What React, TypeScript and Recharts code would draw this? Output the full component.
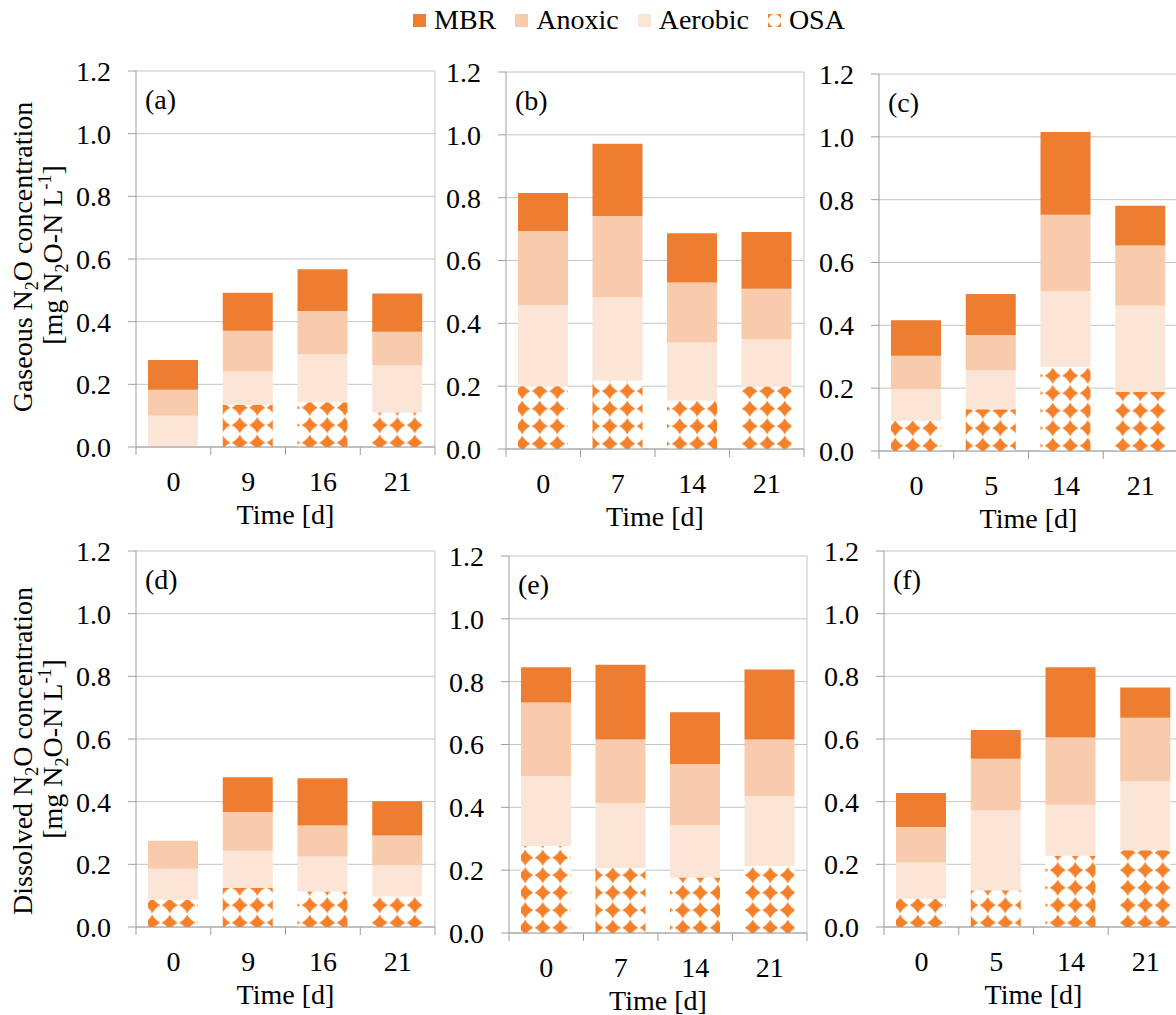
import React from 'react';
import { Bar, BarChart, CartesianGrid, XAxis, YAxis } from 'recharts';

const FONT = '"Liberation Serif", "Times New Roman", serif';
const AXIS = '#9E9E9E';
const GRID = '#C4C4C4';
const MBR_COLOR = '#ED7D31';
const ANOXIC_COLOR = '#F8CBAD';
const AEROBIC_COLOR = '#FBE5D6';
const OSA_DOT = '#F4812A';

const yTicks = [0, 0.2, 0.4, 0.6, 0.8, 1.0, 1.2];

// sampling days per reactor
const daysA = ['0', '9', '16', '21'];
const daysB = ['0', '7', '14', '21'];
const daysC = ['0', '5', '14', '21'];

// gaseous N2O (top row)
const osaA = [0, 0.135, 0.143, 0.11];
const aerobicA = [0.1, 0.106, 0.152, 0.15];
const anoxicA = [0.083, 0.13, 0.139, 0.108];
const mbrA = [0.095, 0.121, 0.133, 0.122];

const osaB = [0.2, 0.218, 0.154, 0.199];
const aerobicB = [0.258, 0.264, 0.185, 0.15];
const anoxicB = [0.236, 0.26, 0.191, 0.161];
const mbrB = [0.121, 0.23, 0.157, 0.181];

const osaC = [0.096, 0.133, 0.268, 0.188];
const aerobicC = [0.101, 0.124, 0.241, 0.274];
const anoxicC = [0.106, 0.112, 0.243, 0.192];
const mbrC = [0.113, 0.131, 0.263, 0.127];

// dissolved N2O (bottom row)
const osaD = [0.087, 0.125, 0.113, 0.097];
const aerobicD = [0.099, 0.118, 0.112, 0.099];
const anoxicD = [0.089, 0.124, 0.099, 0.096];
const mbrD = [0, 0.111, 0.151, 0.109];

const osaE = [0.277, 0.207, 0.177, 0.213];
const aerobicE = [0.223, 0.206, 0.166, 0.222];
const anoxicE = [0.234, 0.203, 0.195, 0.181];
const mbrE = [0.112, 0.238, 0.165, 0.223];

const osaF = [0.09, 0.117, 0.227, 0.245];
const aerobicF = [0.116, 0.255, 0.163, 0.22];
const anoxicF = [0.113, 0.165, 0.215, 0.203];
const mbrF = [0.109, 0.092, 0.224, 0.096];

const rows = (days, osa, aerobic, anoxic, mbr) =>
  days.map((day, i) => ({ day, osa: osa[i], aerobic: aerobic[i], anoxic: anoxic[i], mbr: mbr[i] }));

const panels = [
  { label: '(a)', data: rows(daysA, osaA, aerobicA, anoxicA, mbrA), x: 136, y: 71, w: 299, h: 376 },
  { label: '(b)', data: rows(daysB, osaB, aerobicB, anoxicB, mbrB), x: 506, y: 72, w: 298, h: 377 },
  { label: '(c)', data: rows(daysC, osaC, aerobicC, anoxicC, mbrC), x: 879, y: 74, w: 299, h: 377 },
  { label: '(d)', data: rows(daysA, osaD, aerobicD, anoxicD, mbrD), x: 136, y: 551, w: 299, h: 376 },
  { label: '(e)', data: rows(daysB, osaE, aerobicE, anoxicE, mbrE), x: 509, y: 556, w: 298, h: 377 },
  { label: '(f)', data: rows(daysC, osaF, aerobicF, anoxicF, mbrF), x: 884, y: 551, w: 299, h: 376 }
];

const series = [
  { key: 'mbr', name: 'MBR', fill: MBR_COLOR },
  { key: 'anoxic', name: 'Anoxic', fill: ANOXIC_COLOR },
  { key: 'aerobic', name: 'Aerobic', fill: AEROBIC_COLOR },
  { key: 'osa', name: 'OSA', fill: 'url(#osaLegend)' }
];

const Y_W = 80;
const X_H = 90;
const TOP = 22;
const RIGHT = 10;

// category label plus tick marks on the category boundaries
function TimeTick(props) {
  const { x, y, payload, index, band, count } = props;
  const half = payload && payload.offset ? payload.offset : band / 2;
  const axisY = y - 24;
  return (
    <g>
      <line x1={x - half} y1={axisY} x2={x - half} y2={axisY + 8} stroke={AXIS} />
      {index === count - 1 && <line x1={x + half} y1={axisY} x2={x + half} y2={axisY + 8} stroke={AXIS} />}
      <text x={x} y={y} dy="0.71em" textAnchor="middle" fontFamily={FONT} fontSize={28} fill="#000">
        {payload.value}
      </text>
    </g>
  );
}

function Panel({ p }) {
  const width = Y_W + p.w + RIGHT;
  const height = TOP + p.h + X_H;
  return (
    <div style={{ position: 'absolute', left: p.x - Y_W, top: p.y - TOP, width, height }}>
      <BarChart width={width} height={height} data={p.data} margin={{ top: TOP, right: RIGHT, left: 0, bottom: 0 }}>
        <CartesianGrid horizontal={true} vertical={false} stroke={GRID} />
        <CartesianGrid horizontal={false} vertical={true} verticalPoints={[Y_W + p.w]} stroke={GRID} />
        <XAxis
          dataKey="day"
          interval={0}
          height={X_H}
          axisLine={{ stroke: AXIS }}
          tickLine={false}
          tickSize={8}
          tickMargin={16}
          tick={<TimeTick band={p.w / p.data.length} count={p.data.length} />}
          label={{ value: 'Time [d]', position: 'insideBottom', offset: 13, fontFamily: FONT, fontSize: 28, fill: '#000' }}
        />
        <YAxis
          width={Y_W}
          domain={[0, 1.2]}
          ticks={yTicks}
          interval={0}
          tickFormatter={(v) => v.toFixed(1)}
          axisLine={{ stroke: AXIS }}
          tickLine={{ stroke: AXIS }}
          tickSize={8}
          tickMargin={17}
          tick={{ fontFamily: FONT, fontSize: 28, fill: '#000' }}
        />
        <Bar dataKey="osa" stackId="s" fill="url(#osa)" barSize={50} isAnimationActive={false} />
        <Bar dataKey="aerobic" stackId="s" fill={AEROBIC_COLOR} barSize={50} isAnimationActive={false} />
        <Bar dataKey="anoxic" stackId="s" fill={ANOXIC_COLOR} barSize={50} isAnimationActive={false} />
        <Bar dataKey="mbr" stackId="s" fill={MBR_COLOR} barSize={50} isAnimationActive={false} />
      </BarChart>
    </div>
  );
}

const diamond = 'M8.75,0.6 Q11.4,6.1 16.9,8.75 Q11.4,11.4 8.75,16.9 Q6.1,11.4 0.6,8.75 Q6.1,6.1 8.75,0.6 Z';
const smallDiamond = 'M0,-5 Q1.4,-1.4 5,0 Q1.4,1.4 0,5 Q-1.4,1.4 -5,0 Q-1.4,-1.4 0,-5 Z';

function AxisTitle({ x1, x2, cy, first }) {
  return (
    <g fontFamily={FONT} fontSize={28} fill="#000">
      <text x={x1} y={cy} textAnchor="middle" transform={`rotate(-90 ${x1} ${cy})`}>
        {first} N<tspan fontSize={18} dy={6}>2</tspan>
        <tspan dy={-6}>O concentration</tspan>
      </text>
      <text x={x2} y={cy - 2} textAnchor="middle" transform={`rotate(-90 ${x2} ${cy - 2})`}>
        [mg N<tspan fontSize={18} dy={6}>2</tspan>
        <tspan dy={-6}>O-N L</tspan>
        <tspan fontSize={18} dy={-11}>-1</tspan>
        <tspan dy={11}>]</tspan>
      </text>
    </g>
  );
}

export default function App() {
  return (
    <div style={{ position: 'absolute', left: 0, top: 0, width: 1176, height: 1015, overflow: 'hidden', background: '#fff', fontFamily: FONT }}>
      <svg width={0} height={0} style={{ position: 'absolute' }}>
        <defs>
          <pattern id="osa" patternUnits="userSpaceOnUse" width={17.5} height={17.5}>
            <rect width={17.5} height={17.5} fill="#fff" />
            <path d={diamond} fill={OSA_DOT} />
          </pattern>
          <pattern id="osaLegend" patternUnits="userSpaceOnUse" width={13} height={13}>
            <rect width={13} height={13} fill="#fff" />
            <path d={smallDiamond} fill={OSA_DOT} transform="translate(0 0)" />
            <path d={smallDiamond} fill={OSA_DOT} transform="translate(13 0)" />
            <path d={smallDiamond} fill={OSA_DOT} transform="translate(0 13)" />
            <path d={smallDiamond} fill={OSA_DOT} transform="translate(13 13)" />
          </pattern>
        </defs>
      </svg>

      {panels.map((p) => (
        <Panel key={p.label} p={p} />
      ))}

      <svg width={1176} height={1015} style={{ position: 'absolute', left: 0, top: 0, pointerEvents: 'none' }}>
        <AxisTitle x1={32} x2={62} cy={257} first="Gaseous" />
        <AxisTitle x1={32} x2={62} cy={751} first="Dissolved" />
        {panels.map((p) => (
          <text key={p.label} x={p.x + 9} y={p.y + 38} fontFamily={FONT} fontSize={28} fill="#000">
            {p.label}
          </text>
        ))}
      </svg>

      <div style={{ position: 'absolute', left: 413, top: 2, display: 'flex', alignItems: 'center', gap: 19, fontSize: 28, lineHeight: '36px', color: '#000' }}>
        {series.map((s) => (
          <div key={s.key} style={{ display: 'flex', alignItems: 'center' }}>
            <svg width={13} height={13} style={{ marginRight: 8 }}>
              <rect width={13} height={13} fill={s.fill} />
            </svg>
            <span>{s.name}</span>
          </div>
        ))}
      </div>
    </div>
  );
}
